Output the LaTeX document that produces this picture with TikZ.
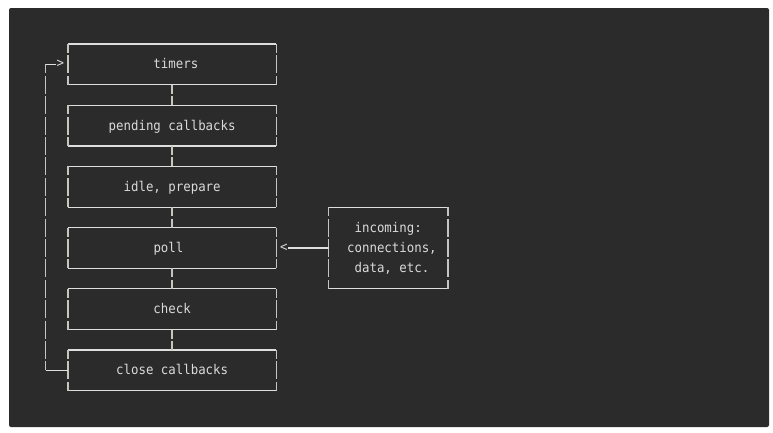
\documentclass[tikz,border=0pt]{standalone}
\usepackage{fontspec}
\newfontfamily\codefont[FakeStretch=0.925]{DejaVu Sans Mono}
\definecolor{pagebg}{HTML}{FFFFFF}
\definecolor{panel}{HTML}{2B2B2B}
\definecolor{rulecol}{HTML}{DEDEDE}
\definecolor{barcol}{HTML}{C6C6BE}
\definecolor{txtcol}{HTML}{DADADA}
% character grid of the code block: column width and row height
\newcommand\colx[1]{45.5+7.45*(#1)}
\newcommand\rowy[1]{44+20.4*(#1)}
\tikzset{
  hline/.style={draw=rulecol, line width=1.1pt},
  vline/.style={draw=barcol, line width=1.4pt, dash pattern=on 18pt off 2.4pt, dash phase=9pt},
  stage/.style={rectangle, inner sep=0pt, outer sep=0pt, minimum width=208.6pt, minimum height=40.8pt},
  srcbox/.style={rectangle, inner sep=0pt, outer sep=0pt, minimum width=119.2pt, minimum height=81.6pt},
  lbl/.style={text=txtcol, inner sep=0pt, anchor=mid, font=\codefont\fontsize{13.4pt}{16pt}\selectfont},
}
% box frame: solid top and bottom rules, broken side bars
\newcommand\frameit[1]{%
  \draw[hline] (#1.north west) -- (#1.north east) (#1.south west) -- (#1.south east);
  \draw[vline] (#1.north west) -- (#1.south west);
  \draw[vline] (#1.north east) -- (#1.south east);
}
\begin{document}
\begin{tikzpicture}[x=1pt, y=-1pt]
  \fill[pagebg] (0,0) rectangle (773,432);
  \fill[panel, rounded corners=2pt] (9,8) rectangle (769,427);

  % event loop phases
  \node[stage] (timers)   at ({\colx{17}},{\rowy{1}})  {};
  \node[stage] (pending)  at ({\colx{17}},{\rowy{4}})  {};
  \node[stage] (idle)     at ({\colx{17}},{\rowy{7}})  {};
  \node[stage] (poll)     at ({\colx{17}},{\rowy{10}}) {};
  \node[stage] (check)    at ({\colx{17}},{\rowy{13}}) {};
  \node[stage] (close)    at ({\colx{17}},{\rowy{16}}) {};
  \node[srcbox] (incoming) at ({\colx{46}},{\rowy{10}}) {};

  \foreach \b in {timers,pending,idle,poll,check,close,incoming} {\frameit{\b}}

  % labels
  \node[lbl] (ltimers)  at ({\colx{17.5}},{\rowy{1}+2.4})  {timers};
  \node[lbl] (lpending) at ({\colx{17}},{\rowy{4}+2.4})    {pending callbacks};
  \node[lbl] (lidle)    at ({\colx{17}},{\rowy{7}+2.4})    {idle, prepare};
  \node[lbl] (lpoll)    at ({\colx{16.5}},{\rowy{10}+2.4}) {poll};
  \node[lbl] (lcheck)   at ({\colx{17}},{\rowy{13}+2.4})   {check};
  \node[lbl] (lclose)   at ({\colx{17}},{\rowy{16}+2.4})   {close callbacks};
  \node[lbl] (lin1)     at ({\colx{46}},{\rowy{9}+2.4})    {incoming:};
  \node[lbl] (lin2)     at ({\colx{46.5}},{\rowy{10}+2.4}) {connections,};
  \node[lbl] (lin3)     at ({\colx{46.5}},{\rowy{11}+2.4}) {data, etc.};

  % links between consecutive phases
  \draw[vline] (timers.south)  -- (pending.north);
  \draw[vline] (pending.south) -- (idle.north);
  \draw[vline] (idle.south)    -- (poll.north);
  \draw[vline] (poll.south)    -- (check.north);
  \draw[vline] (check.south)   -- (close.north);

  % loop back from close callbacks to timers
  \coordinate (looptop) at ({\colx{0}},{\rowy{1}});
  \coordinate (loopbot) at ({\colx{0}},{\rowy{16}});
  \node[lbl] (gt) at ({\colx{2}},{\rowy{1}+1}) {>};
  \draw[vline] (looptop) -- (loopbot);
  \draw[hline] (loopbot) -- (close.west);
  \draw[hline] (looptop) -- (looptop -| gt.west);

  % incoming work feeding poll
  \node[lbl] (lt) at ({\colx{32}},{\rowy{10}+1}) {<};
  \draw[hline] (incoming.west) -- (incoming.west -| lt.east);
\end{tikzpicture}
\end{document}
